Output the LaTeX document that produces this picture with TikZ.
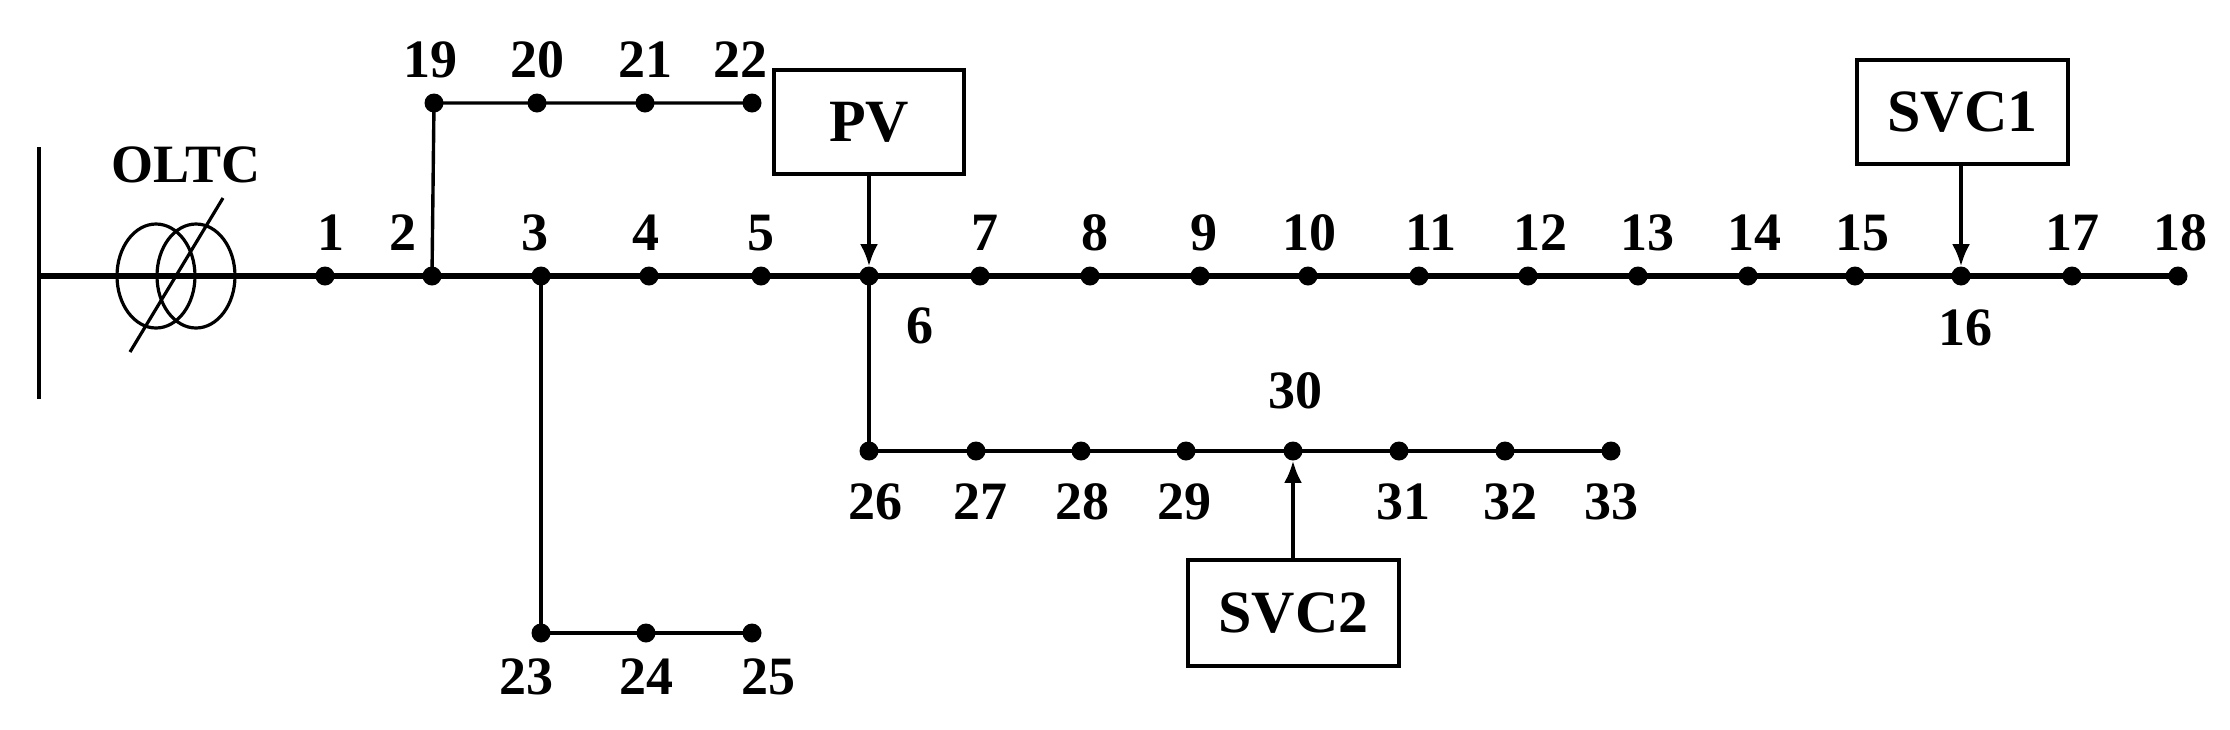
\documentclass[tikz,border=0pt]{standalone}
\usepackage{fontspec}
\setmainfont{Liberation Serif}
\usetikzlibrary{arrows.meta}
\begin{document}
\begin{tikzpicture}[x=0.5pt,y=-0.5pt,
  bus/.style={circle,fill=black,inner sep=0pt,minimum size=9.5pt},
  lab/.style={font=\fontsize{27}{30}\selectfont\bfseries,inner sep=0pt},
  box/.style={draw,line width=1.6pt,font=\fontsize{30}{33}\selectfont\bfseries,inner sep=0pt},
  main/.style={line width=2.6pt},
  br/.style={line width=1.7pt},
  arr/.style={line width=1.7pt,-{Latex[length=11pt,width=9pt]}}]
\useasboundingbox (0,0) rectangle (2230,729);
% bus bar and transformer
\coordinate (bt) at (39,147); \coordinate (bb) at (39,399);
\draw[line width=1.7pt] (bt) -- (bb);
\draw[line width=1.6pt] (156,276) ellipse (19.5pt and 26pt);
\draw[line width=1.6pt] (196,276) ellipse (19.5pt and 26pt);
\coordinate (s1) at (130,352); \coordinate (s2) at (223,198);
\draw[line width=1.6pt] (s1) -- (s2);
\node[lab] (oltc) at (186,165) {OLTC};
% main feeder buses
\foreach \i/\x in {1/325,2/432,3/541,4/649,5/761,6/869,7/980,8/1090,9/1200,10/1308,11/1419,12/1528,13/1638,14/1748,15/1855,16/1961,17/2072,18/2178}
  \node[bus] (n\i) at (\x,276) {};
\coordinate (m0) at (39,276);
\draw[main] (m0) -- (n18.center);
\foreach \i/\x in {1/331,2/403,3/535,4/646,5/761,7/985,8/1095,9/1204,10/1309,11/1431,12/1540,13/1647,14/1754,15/1862,17/2072,18/2180}
  \node[lab] (l\i) at (\x,233) {\i};
\node[lab] (l6) at (920,326) {6};
\node[lab] (l16) at (1965,328) {16};
% branch 19-22
\foreach \i/\x in {19/434,20/537,21/645,22/752}
  \node[bus] (n\i) at (\x,103) {};
\draw[br] (n2.center) -- (n19.center) -- (n22.center);
\foreach \i/\x in {19/430,20/537,21/645,22/740}
  \node[lab] (l\i) at (\x,60) {\i};
% branch 23-25
\foreach \i/\x in {23/541,24/646,25/752}
  \node[bus] (n\i) at (\x,633) {};
\draw[br] (n3.center) -- (n23.center) -- (n25.center);
\foreach \i/\x in {23/526,24/646,25/768}
  \node[lab] (l\i) at (\x,677) {\i};
% branch 26-33
\foreach \i/\x in {26/869,27/976,28/1081,29/1186,30/1293,31/1399,32/1505,33/1611}
  \node[bus] (n\i) at (\x,451) {};
\draw[br] (n6.center) -- (n26.center) -- (n33.center);
\foreach \i/\x in {26/875,27/980,28/1082,29/1184,31/1403,32/1510,33/1611}
  \node[lab] (l\i) at (\x,502) {\i};
\node[lab] (l30) at (1295,391) {30};
% devices
\node[box,minimum width=95pt,minimum height=52pt] (pv) at (869,122) {PV};
\node[box,minimum width=105.5pt,minimum height=52pt] (svc1) at (1962.5,112) {SVC1};
\node[box,minimum width=105.5pt,minimum height=53pt] (svc2) at (1293.5,613) {SVC2};
\draw[arr] (pv.south) -- (n6.north);
\draw[arr] (svc1.south -| n16) -- (n16.north);
\draw[arr] (svc2.north -| n30) -- (n30.south);
\end{tikzpicture}
\end{document}
